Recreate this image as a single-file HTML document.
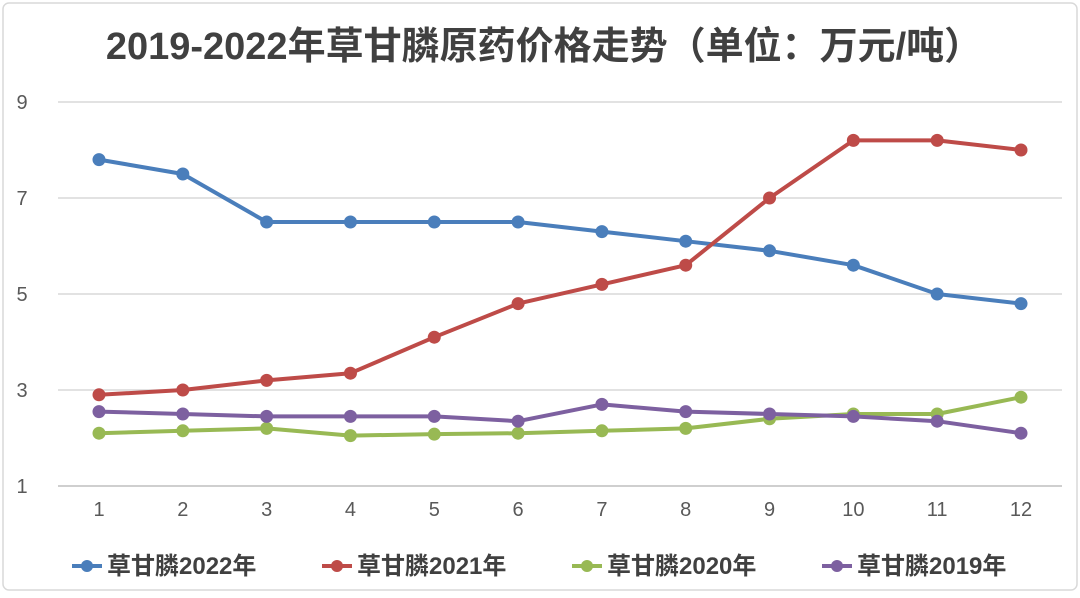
<!DOCTYPE html>
<html><head><meta charset="utf-8"><style>
body{margin:0;background:#fff;}
svg text{font-family:"Liberation Sans","Noto Sans CJK SC",sans-serif;}
</style></head><body>
<svg width="1080" height="593" viewBox="0 0 1080 593">
<rect x="3" y="3" width="1074" height="587" rx="6" fill="#fff" stroke="#d9d9d9" stroke-width="1.5"/>
<text x="544" y="59" text-anchor="middle" font-size="38" font-weight="bold" fill="#404040">2019-2022年草甘膦原药价格走势（单位：万元/吨）</text>
<g id="grid"></g><g id="series"></g><g id="legend"></g>
</svg>
<script>
const months=[1,2,3,4,5,6,7,8,9,10,11,12];
const yTicks=[1,3,5,7,9];
const s2022=[7.8,7.5,6.5,6.5,6.5,6.5,6.3,6.1,5.9,5.6,5.0,4.8];
const s2021=[2.9,3.0,3.2,3.35,4.1,4.8,5.2,5.6,7.0,8.2,8.2,8.0];
const s2020=[2.1,2.15,2.2,2.05,2.08,2.1,2.15,2.2,2.4,2.5,2.5,2.85];
const s2019=[2.55,2.5,2.45,2.45,2.45,2.35,2.7,2.55,2.5,2.45,2.35,2.1];
const names=["草甘膦2022年","草甘膦2021年","草甘膦2020年","草甘膦2019年"];
const NS="http://www.w3.org/2000/svg";
const xS=m=>99+(m-1)*(1021-99)/11;
const yS=v=>486-(v-1)*48;
function mk(t,a,p){const e=document.createElementNS(NS,t);for(const k in a)e.setAttribute(k,a[k]);p.appendChild(e);return e;}
const grid=document.getElementById('grid');
yTicks.forEach(v=>{
 const l=mk('line',{x1:58,x2:1062,y1:yS(v),y2:yS(v),stroke:v===1?'#bfbfbf':'#d9d9d9','stroke-width':1.5},grid);
 
 
 const t=mk('text',{x:22,y:yS(v)+7,'text-anchor':'middle','font-size':20,fill:'#595959'},grid);t.textContent=v;
 
 
});
months.forEach(m=>{
 const t=mk('text',{x:xS(m),y:516,'text-anchor':'middle','font-size':20,fill:'#595959'},grid);t.textContent=m;
 
 
});
const series=[s2022,s2021,s2020,s2019];
const colors=['#4a7ebb','#be4b48','#98b954','#7d60a0'];
const sg=document.getElementById('series');
series.forEach((d,i)=>{
 const pts=d.map((v,j)=>[xS(months[j]),yS(v)]);
 const p='M'+pts.map(q=>q.join(',')).join(' L');
 const path=mk('path',{d:p,fill:'none',stroke:colors[i],'stroke-width':4,'stroke-linejoin':'round'},sg);
 
 
 pts.forEach((q,j)=>{
  const c=mk('circle',{cx:q[0],cy:q[1],r:6.5,fill:colors[i]},sg);
  
  
 });
});
const lg=document.getElementById('legend');
const lx=[72,322,572,822];
names.forEach((n,i)=>{
 const g=mk('g',{},lg);
 
 
 mk('line',{x1:lx[i],x2:lx[i]+30,y1:566,y2:566,stroke:colors[i],'stroke-width':4},g);
 mk('circle',{cx:lx[i]+15,cy:566,r:6,fill:colors[i]},g);
 const t=mk('text',{x:lx[i]+35,y:574,'font-size':24,'font-weight':'bold',fill:'#404040'},g);t.textContent=n;
});
</script>
</body></html>
